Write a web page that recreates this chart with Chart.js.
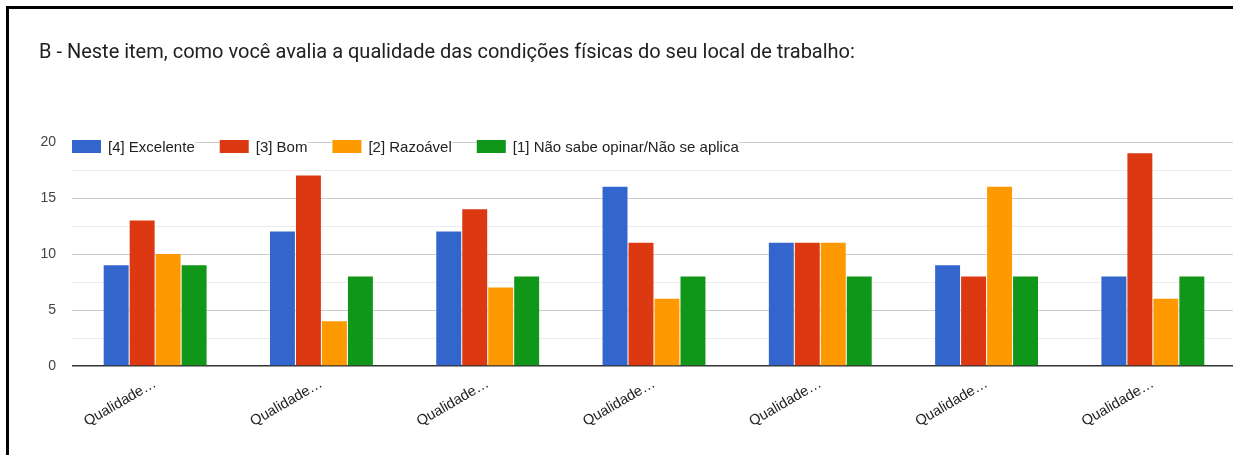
<!DOCTYPE html>
<html lang="pt-BR">
<head>
<meta charset="utf-8">
<title>Condições físicas do local de trabalho</title>
<script src="https://cdn.jsdelivr.net/npm/chart.js@4.4.1/dist/chart.umd.min.js"></script>
<style>
  html, body { margin: 0; padding: 0; background: #fff; overflow: hidden; }
  body { width: 1233px; height: 455px; position: relative; font-family: Roboto, Arial, sans-serif; }
  #moldura {
    position: absolute; left: 6px; top: 6px; width: 1300px; height: 470px;
    border-left: 3px solid #000; border-top: 3px solid #000;
  }
  #titulo {
    position: absolute; left: 39px; top: 39px; font-size: 20px; line-height: 24px;
    color: #212121; white-space: nowrap;
  }
  #area { position: absolute; left: 0; top: 0; width: 1240px; height: 455px; }
</style>
</head>
<body>
<div id="area"><canvas id="grafico" width="1240" height="455"></canvas></div>
<div id="moldura"></div>
<div id="titulo">B - Neste item, como você avalia a qualidade das condições físicas do seu local de trabalho:</div>

<script>
// Respostas por item avaliado
const categorias = ["Qualidade…", "Qualidade…", "Qualidade…", "Qualidade…", "Qualidade…", "Qualidade…", "Qualidade…"];
const excelente = [9, 12, 12, 16, 11, 9, 8];
const bom = [13, 17, 14, 11, 11, 8, 19];
const razoavel = [10, 4, 7, 6, 11, 16, 6];
const naoSabe = [9, 8, 8, 8, 8, 8, 8];
const ticksY = [0, 5, 10, 15, 20];

const fonteGrafico = "'Liberation Sans', Arial, sans-serif";

const series = [
  { label: "[4] Excelente", data: excelente, cor: "#3366cc" },
  { label: "[3] Bom", data: bom, cor: "#dc3912" },
  { label: "[2] Razoável", data: razoavel, cor: "#ff9900" },
  { label: "[1] Não sabe opinar/Não se aplica", data: naoSabe, cor: "#109618" }
];

// Legenda desenhada por cima da área do gráfico
const legendaTopo = {
  id: "legendaTopo",
  afterDraw(chart) {
    const ctx = chart.ctx;
    const area = chart.chartArea;
    ctx.save();
    ctx.font = "15px " + fonteGrafico;
    ctx.textBaseline = "middle";
    let x = area.left;
    const yCentro = area.top + 5;
    series.forEach(s => {
      const larg = ctx.measureText(s.label).width;
      ctx.fillStyle = "#fff";
      ctx.fillRect(x, yCentro - 7, 36 + larg, 14);
      ctx.fillStyle = s.cor;
      ctx.fillRect(x, yCentro - 7, 29, 13);
      ctx.fillStyle = "#222";
      ctx.fillText(s.label, x + 36, yCentro + 0.5);
      x += 36 + larg + 25;
    });
    ctx.restore();
  }
};

new Chart(document.getElementById("grafico"), {
  type: "bar",
  data: {
    labels: categorias,
    datasets: series.map(s => ({
      label: s.label,
      data: s.data,
      backgroundColor: s.cor,
      borderWidth: 0,
      categoryPercentage: 0.625,
      barPercentage: 0.96
    }))
  },
  options: {
    responsive: false,
    animation: false,
    devicePixelRatio: 1,
    layout: { padding: { top: 142, right: 4, bottom: 0, left: 0 } },
    plugins: { legend: { display: false }, tooltip: { enabled: false }, title: { display: false } },
    scales: {
      x: {
        grid: { display: false, drawTicks: false },
        border: { display: false },
        ticks: {
          autoSkip: false,
          minRotation: 30,
          maxRotation: 30,
          padding: 9,
          color: "#222",
          font: { family: fonteGrafico, size: 14.5 }
        },
        afterFit(scale) { scale.height = 89; }
      },
      y: {
        min: 0,
        max: 20,
        border: { display: false },
        grid: {
          drawTicks: false,
          lineWidth: ctx => (ctx.tick && ctx.tick.value === 0 ? 1.5 : 1),
          color: ctx => {
            if (!ctx.tick) return "#ccc";
            if (ctx.tick.value === 0) return "#333";
            return ticksY.includes(ctx.tick.value) ? "#ccc" : "#ebebeb";
          }
        },
        ticks: {
          stepSize: 2.5,
          padding: 16,
          color: "#444",
          font: { family: fonteGrafico, size: 14 },
          callback: v => (ticksY.includes(v) ? v : "")
        },
        afterFit(scale) { scale.width = 72; }
      }
    }
  },
  plugins: [legendaTopo]
});
</script>
</body>
</html>
